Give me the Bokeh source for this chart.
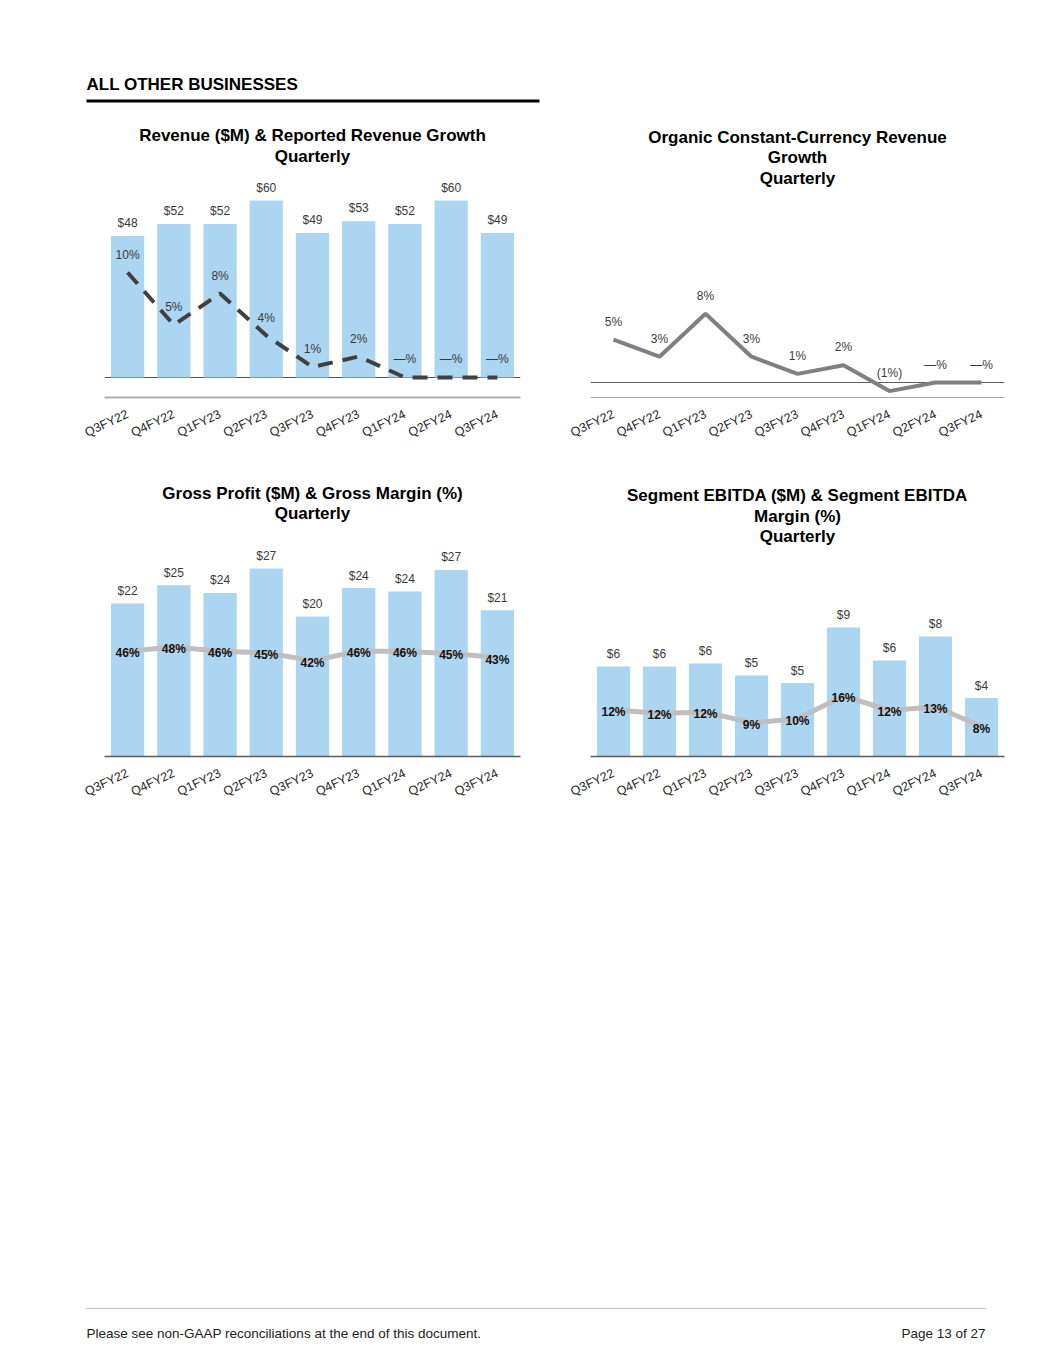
from bokeh.plotting import figure
from bokeh.models import FactorRange, Range1d, Span, LabelSet, ColumnDataSource
from bokeh.layouts import column, row
from bokeh.embed import file_html
from bokeh.resources import INLINE
from bokeh.core.properties import value

# ---------------- data ----------------
quarters = ["Q3FY22", "Q4FY22", "Q1FY23", "Q2FY23", "Q3FY23", "Q4FY23", "Q1FY24", "Q2FY24", "Q3FY24"]

revenue = [48, 52, 52, 60, 49, 53, 52, 60, 49]
revenue_labels = ["$48", "$52", "$52", "$60", "$49", "$53", "$52", "$60", "$49"]
reported_growth = [10, 5, 8, 4, 1, 2, 0, 0, 0]
reported_growth_labels = ["10%", "5%", "8%", "4%", "1%", "2%", "\u2014%", "\u2014%", "\u2014%"]

organic_growth = [5, 3, 8, 3, 1, 2, -1, 0, 0]
organic_growth_labels = ["5%", "3%", "8%", "3%", "1%", "2%", "(1%)", "\u2014%", "\u2014%"]

gross_profit = [22.0, 24.6, 23.5, 27.0, 20.1, 24.2, 23.7, 26.8, 21.0]
gross_profit_labels = ["$22", "$25", "$24", "$27", "$20", "$24", "$24", "$27", "$21"]
gross_margin = [45.8, 47.6, 45.8, 45.1, 41.6, 45.9, 45.7, 44.8, 43.0]
gross_margin_labels = ["46%", "48%", "46%", "45%", "42%", "46%", "46%", "45%", "43%"]

ebitda = [6.0, 6.0, 6.2, 5.4, 4.9, 8.6, 6.4, 8.0, 3.9]
ebitda_labels = ["$6", "$6", "$6", "$5", "$5", "$9", "$6", "$8", "$4"]
ebitda_margin = [12.5, 11.5, 11.9, 9.0, 10.1, 16.2, 12.3, 13.3, 8.0]
ebitda_margin_labels = ["12%", "12%", "12%", "9%", "10%", "16%", "12%", "13%", "8%"]

titles1 = ["Revenue ($M) & Reported Revenue Growth", "Quarterly"]
titles2 = ["Organic Constant-Currency Revenue", "Growth", "Quarterly"]
titles3 = ["Gross Profit ($M) & Gross Margin (%)", "Quarterly"]
titles4 = ["Segment EBITDA ($M) & Segment EBITDA", "Margin (%)", "Quarterly"]

# ---------------- styles ----------------
FONT = "Liberation Sans"
BAR = "#acd5f1"
LBL = "#3a3a3a"


def chart(width, height, mb_left, mb_right, mb_bottom, y0, y1, page_top, page_bottom,
          titles, title_y, axis_color, axis_width):
    p = figure(x_range=FactorRange(factors=quarters, range_padding=0),
               y_range=Range1d(y0, y1), width=width, height=height,
               output_backend="svg", toolbar_location=None, tools="",
               y_axis_location=None,
               min_border_left=mb_left, min_border_right=mb_right,
               min_border_top=0, min_border_bottom=mb_bottom)
    p.outline_line_color = None
    p.xgrid.visible = False
    p.ygrid.visible = False
    p.background_fill_color = "white"
    p.border_fill_color = "white"
    # vertical page-pixel range, used only to place the title block
    p.extra_y_ranges["py"] = Range1d(page_bottom, page_top)
    center = quarters[len(quarters) // 2]          # middle category = centre of the frame
    p.text(x=[center] * len(titles), y=title_y, text=titles, y_range_name="py",
           text_font=value(FONT), text_font_size="17px", text_font_style="bold",
           text_align="center", text_baseline="middle", text_color="#000000")
    ax = p.xaxis[0]
    ax.major_label_orientation = 0.44
    ax.major_label_text_font = FONT
    ax.major_label_text_font_size = "12.5px"
    ax.major_label_text_color = "#262626"
    ax.major_tick_line_color = None
    ax.minor_tick_line_color = None
    ax.major_label_standoff = 10
    ax.axis_line_color = axis_color
    ax.axis_line_width = axis_width
    return p


def labels(p, src, ycol, tcol, offset, bold=False, color=LBL, y_range_name="default"):
    p.add_layout(LabelSet(x="q", y=ycol, text=tcol, source=src, y_offset=offset,
                          y_range_name=y_range_name,
                          text_align="center", text_baseline="middle",
                          text_font=value(FONT), text_font_size=value("12px"),
                          text_font_style="bold" if bold else "normal",
                          text_color=color))


# ---------- chart 1: revenue & reported growth ----------
src1 = ColumnDataSource(dict(q=quarters, v=revenue, vl=revenue_labels,
                             g=reported_growth, gl=reported_growth_labels))
p1 = chart(550, 350, 104, 30, 63, -6.78, 90.51, 110, 397,
           titles1, [135, 156], "#b0b0b0", 2)
p1.extra_y_ranges["g"] = Range1d(-1.905, 25.43)
p1.add_layout(Span(location=0, dimension="width", line_color="#505050", line_width=1, level="underlay"))
p1.vbar(x="q", top="v", width=0.72, source=src1, fill_color=BAR, line_color=None)
p1.line(x="q", y="g", source=src1, y_range_name="g", line_color="#404040",
        line_width=4, line_dash="15 10")
labels(p1, src1, "v", "vl", 13)
labels(p1, src1, "g", "gl", 18, y_range_name="g")

# ---------- chart 2: organic constant-currency growth ----------
src2 = ColumnDataSource(dict(q=quarters, g=organic_growth, gl=organic_growth_labels))
p2 = chart(497, 350, 40, 43, 63, -1.744, 31.63, 110, 397,
           titles2, [137, 157, 178], "#a6a6a6", 1)
p2.add_layout(Span(location=0, dimension="width", line_color="#606060", line_width=1, level="underlay"))
p2.line(x="q", y="g", source=src2, line_color="#808080", line_width=4)
labels(p2, src2, "g", "gl", 18)

# ---------- chart 3: gross profit & gross margin ----------
src3 = ColumnDataSource(dict(q=quarters, v=gross_profit, vl=gross_profit_labels,
                             m=gross_margin, ml=gross_margin_labels))
p3 = chart(550, 360, 104, 30, 64, 0, 42.53, 460, 756,
           titles3, [493, 513], "#595959", 1.5)
p3.extra_y_ranges["m"] = Range1d(0, 128.7)
p3.vbar(x="q", top="v", width=0.72, source=src3, fill_color=BAR, line_color=None)
p3.line(x="q", y="m", source=src3, y_range_name="m", line_color="#bfbfbf", line_width=5)
labels(p3, src3, "v", "vl", 12.5)
labels(p3, src3, "m", "ml", -2, bold=True, color="#111111", y_range_name="m")

# ---------- chart 4: segment EBITDA & margin ----------
src4 = ColumnDataSource(dict(q=quarters, v=ebitda, vl=ebitda_labels,
                             m=ebitda_margin, ml=ebitda_margin_labels))
p4 = chart(497, 360, 40, 43, 64, 0, 19.73, 460, 756,
           titles4, [495, 516, 536], "#595959", 1.5)
p4.extra_y_ranges["m"] = Range1d(0, 79.14)
p4.vbar(x="q", top="v", width=0.72, source=src4, fill_color=BAR, line_color=None)
p4.line(x="q", y="m", source=src4, y_range_name="m", line_color="#bfbfbf", line_width=5)
labels(p4, src4, "v", "vl", 12.3)
labels(p4, src4, "m", "ml", -2, bold=True, color="#111111", y_range_name="m")


# ---------- header & footer ----------
def deco(width, height):
    p = figure(width=width, height=height, x_range=Range1d(0, width), y_range=Range1d(height, 0),
               output_backend="svg", toolbar_location=None, tools="",
               x_axis_location=None, y_axis_location=None, min_border=0)
    p.outline_line_color = None
    p.grid.visible = False
    p.background_fill_color = "white"
    p.border_fill_color = "white"
    return p


hdr = deco(1047, 110)
hdr.text(x=[86], y=[84], text=["ALL OTHER BUSINESSES"], text_font=value(FONT),
         text_font_size="17px", text_font_style="bold", text_baseline="middle",
         text_align="left", text_color="#000000")
hdr.segment(x0=[86], y0=[100.5], x1=[539], y1=[100.5], line_width=3, line_color="#000000")

ftr = deco(1047, 540)
ftr.segment(x0=[86], y0=[488], x1=[985], y1=[488], line_width=1, line_color="#bfbfbf")
ftr.text(x=[86], y=[513], text=["Please see non-GAAP reconciliations at the end of this document."],
         text_font=value(FONT), text_font_size="13.5px", text_baseline="middle",
         text_align="left", text_color="#222222")
ftr.text(x=[985], y=[513], text=["Page 13 of 27"],
         text_font=value(FONT), text_font_size="13.5px", text_baseline="middle",
         text_align="right", text_color="#222222")

layout = column(hdr, row(p1, p2), row(p3, p4), ftr)

open("out.html", "w").write(file_html(layout, INLINE, "All Other Businesses"))
